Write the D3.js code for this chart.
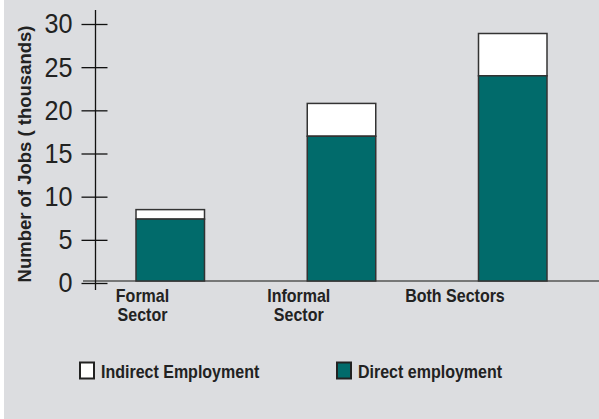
<!DOCTYPE html>
<html>
<head>
<meta charset="utf-8">
<script src="https://cdn.jsdelivr.net/npm/d3@7"></script>
<style>
  body { margin: 0; background: #fff; }
  svg { display: block; font-family: Arial, "Liberation Sans", sans-serif; }
</style>
</head>
<body>
<svg id="chart"></svg>
<script>
// chart data
const sectors = ['Formal Sector', 'Informal Sector', 'Both Sectors'];
const sectorLines = [['Formal', 'Sector'], ['Informal', 'Sector'], ['Both Sectors']];
const directJobs = [7.4, 17.0, 24.0];
const totalJobs = [8.5, 20.8, 28.9];
const yTicks = [0, 5, 10, 15, 20, 25, 30];
const legendLabels = ['Indirect Employment', 'Direct employment'];

const w = 599, h = 419;
const squeeze = 0.89; // the original font is a bit narrower than Arial
const svg = d3.select('#chart').attr('width', w).attr('height', h);

// gray panel, small white strip on the left
svg.append('rect').attr('x', 4).attr('y', 0).attr('width', w - 4).attr('height', h).attr('fill', '#dcdde0');

const y = d3.scaleLinear().domain([0, 30]).range([283, 24]);
const x = d3.scaleBand().domain(sectors).range([136, 547]).paddingInner(0.6).paddingOuter(0);
const xLabel = d3.scalePoint().domain(sectors).range([142.5, 455]);

// baseline
svg.append('line').attr('x1', 83).attr('x2', w).attr('y1', y(0) - 2).attr('y2', y(0) - 2)
    .attr('stroke', '#555').attr('stroke-width', 1.5);

// bars: indirect (white) on top of direct (teal)
const g = svg.append('g');
sectors.forEach((s, i) => {
    g.append('rect').attr('x', x(s)).attr('width', x.bandwidth())
        .attr('y', y(totalJobs[i])).attr('height', y(directJobs[i]) - y(totalJobs[i]))
        .attr('fill', '#fff').attr('stroke', '#333').attr('stroke-width', 1.5);
    g.append('rect').attr('x', x(s)).attr('width', x.bandwidth())
        .attr('y', y(directJobs[i])).attr('height', y(0) - 2 - y(directJobs[i]))
        .attr('fill', '#016b6b').attr('stroke', '#333').attr('stroke-width', 1.5);
});

// y axis
const yAxis = d3.axisLeft(y).tickValues(yTicks).tickSizeInner(14).tickSizeOuter(0).tickPadding(8);
const ax = svg.append('g').attr('transform', 'translate(95.5,0)').call(yAxis);
ax.select('.domain').remove();
ax.append('line').attr('x1', 0).attr('x2', 0).attr('y1', 10).attr('y2', 290).attr('stroke', '#111').attr('stroke-width', 1.3);
ax.selectAll('.tick line').attr('x2', 12).attr('x1', -14).attr('stroke', '#111').attr('stroke-width', 1.3);
ax.selectAll('.tick text').attr('x', -23 / 0.9).attr('transform', 'scale(0.9,1)')
    .attr('font-size', 28).attr('fill', '#222')
    .attr('font-family', 'Arial, "Liberation Sans", sans-serif');

// y title
svg.append('text').attr('transform', 'translate(31,154) rotate(-90)')
    .attr('text-anchor', 'middle').attr('font-size', 18.5).attr('font-weight', 'bold').attr('fill', '#222')
    .text('Number of Jobs ( thousands)');

// category labels
sectors.forEach((s, i) => {
    const t = svg.append('text').attr('transform', `translate(${xLabel(s)},0) scale(${squeeze},1)`)
        .attr('text-anchor', 'middle').attr('font-size', 18)
        .attr('font-weight', 'bold').attr('fill', '#222');
    sectorLines[i].forEach((line, j) => {
        t.append('tspan').attr('x', 0).attr('y', 302.5 + j * 18.5).text(line);
    });
});

// legend
const legendX = d3.scalePoint().domain(legendLabels).range([79, 336]);
const lg = svg.append('g');
legendLabels.forEach((l, i) => {
    lg.append('rect').attr('x', legendX(l) + 1).attr('y', 362.5).attr('width', 14).attr('height', 16)
        .attr('fill', i === 0 ? '#fff' : '#016b6b').attr('stroke', '#222').attr('stroke-width', 2);
    lg.append('text').attr('transform', `translate(${legendX(l) + 22},378) scale(${squeeze},1)`)
        .attr('font-size', 18).attr('font-weight', 'bold').attr('fill', '#222').text(l);
});
</script>
</body>
</html>
